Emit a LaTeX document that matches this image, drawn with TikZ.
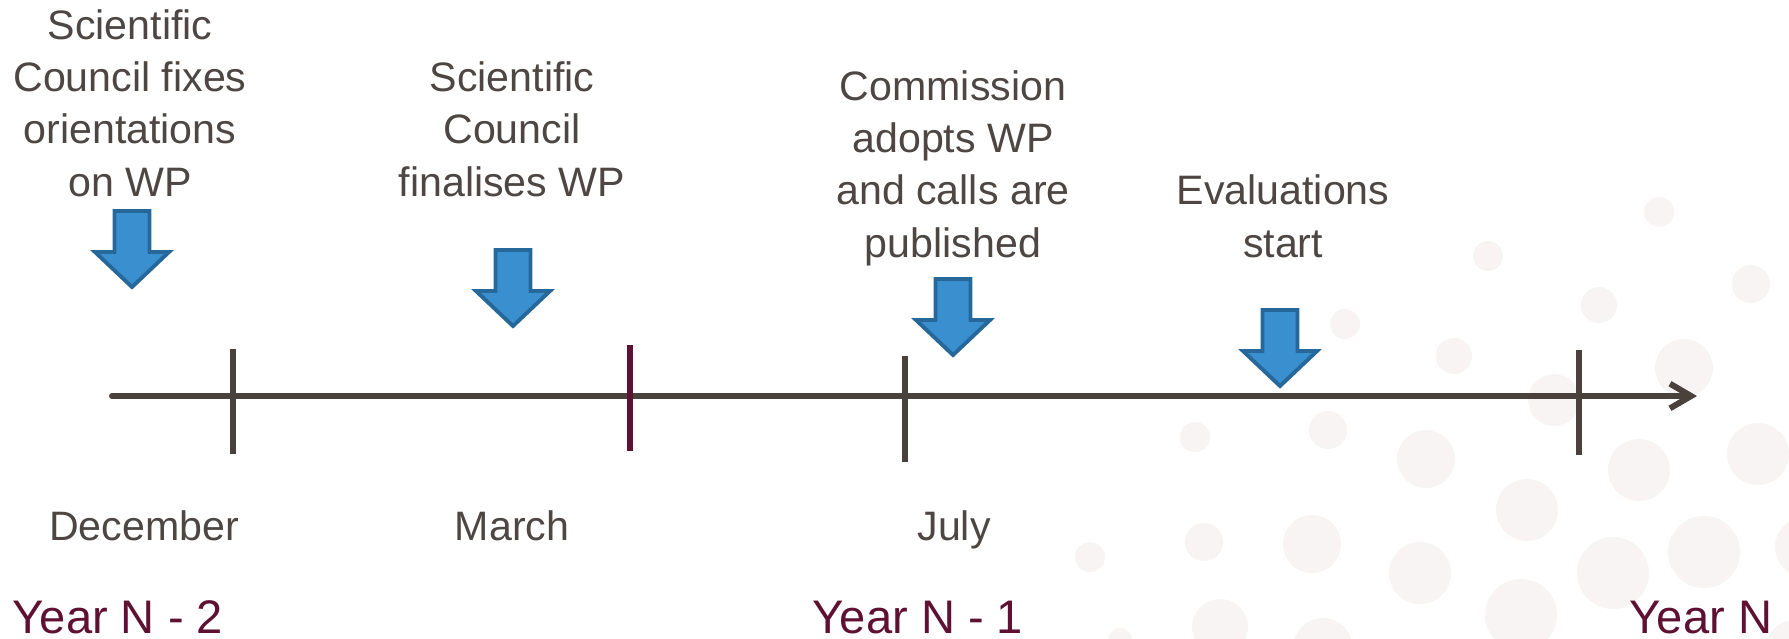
\documentclass[tikz,border=0pt]{standalone}
\usepackage{fontspec}
\setmainfont{Liberation Sans}
\usetikzlibrary{arrows.meta,positioning}
\definecolor{axisgray}{RGB}{74,65,61}
\definecolor{txtgray}{RGB}{77,70,66}
\definecolor{yearred}{RGB}{94,17,50}
\definecolor{arrowfill}{RGB}{58,143,206}
\definecolor{arrowline}{RGB}{37,104,153}
\definecolor{dotpink}{RGB}{248,244,243}

\begin{document}
\begin{tikzpicture}[x=0.01cm, y=-0.01cm, line cap=round, line join=round]

% --- Page (pixel units, origin top left) ---
\useasboundingbox (0,0) rectangle (1789,638);

% --- Styles ---
\tikzset{
  event/.style={align=center, inner sep=0pt, anchor=base, text=txtgray,
    font=\fontsize{11.7}{14.8}\selectfont},
  month/.style={inner sep=0pt, anchor=base, text=txtgray,
    font=\fontsize{11.7}{14}\selectfont},
  yearlbl/.style={inner sep=0pt, anchor=base west, text=yearred,
    font=\fontsize{13.4}{16}\selectfont},
  ticmark/.style={axisgray, line width=1.5pt, line cap=butt},
  blockarrow/.pic={
    \filldraw[arrowline, fill=arrowfill, line width=1.1pt, line join=miter]
      (-17.5,0) -- (17.5,0) -- (17.5,41) -- (37,41) -- (0,76)
      -- (-37,41) -- (-17.5,41) -- cycle;
  }
}

% --- Background dots ---
\foreach \x/\y/\r in {1659/212/15, 1488/256/15, 1751/284/19, 1599/305/18,
    1345/324/15, 1454/356/18, 1684/368/29, 1554/400/26, 1195/437/15,
    1328/430/19, 1426/459/29, 1639/470/31, 1758/454/31, 1527/510/31,
    1090/557/15, 1204/542/19, 1312/544/29, 1420/573/31, 1613/573/36,
    1704/552/36, 1521/615/36, 1220/627/28, 1323/648/30, 1120/640/12,
    1805/547/30, 1795/650/30}
  \fill[dotpink] (\x,\y) circle (\r);

% --- Time axis ---
\coordinate (axstart) at (112,396);
\coordinate (axend) at (1697,396);
\draw[axisgray, line width=1.7pt, -{Straight Barb[length=6pt,width=7pt]}]
  (axstart) -- (axend);

% --- Ticks ---
\foreach \x/\t/\b in {233/349/454, 905/356/462, 1579/350/455}
  \draw[ticmark] (\x,\t) -- (\x,\b);
\draw[ticmark, yearred] (630,345) -- (630,451);

% --- Events (anchored on last line) ---
\node[event] (orient) at (130,196) {Scientific\\Council fixes\\orientations\\on WP};
\node[event] (finalise) at (512,196) {Scientific\\Council\\finalises WP};
\node[event] (adopt) at (953,257) {Commission\\adopts WP\\and calls are\\published};
\node[event] (evalstart) at (1283,257) {Evaluations\\start};

% --- Block arrows ---
\pic at (132,211) {blockarrow};
\pic at (513,250) {blockarrow};
\pic at (953,279) {blockarrow};
\pic at (1280,310) {blockarrow};

% --- Months ---
\node[month] (dec) at (144,540) {December};
\node[month] (mar) at (512,540) {March};
\node[month] (jul) at (954,540) {July};

% --- Years ---
\node[yearlbl] (yrtwo) at (12,633) {Year N - 2};
\node[yearlbl] (yrone) at (812,633) {Year N - 1};
\node[yearlbl] (yrn) at (1629,633) {Year N};

\end{tikzpicture}
\end{document}
